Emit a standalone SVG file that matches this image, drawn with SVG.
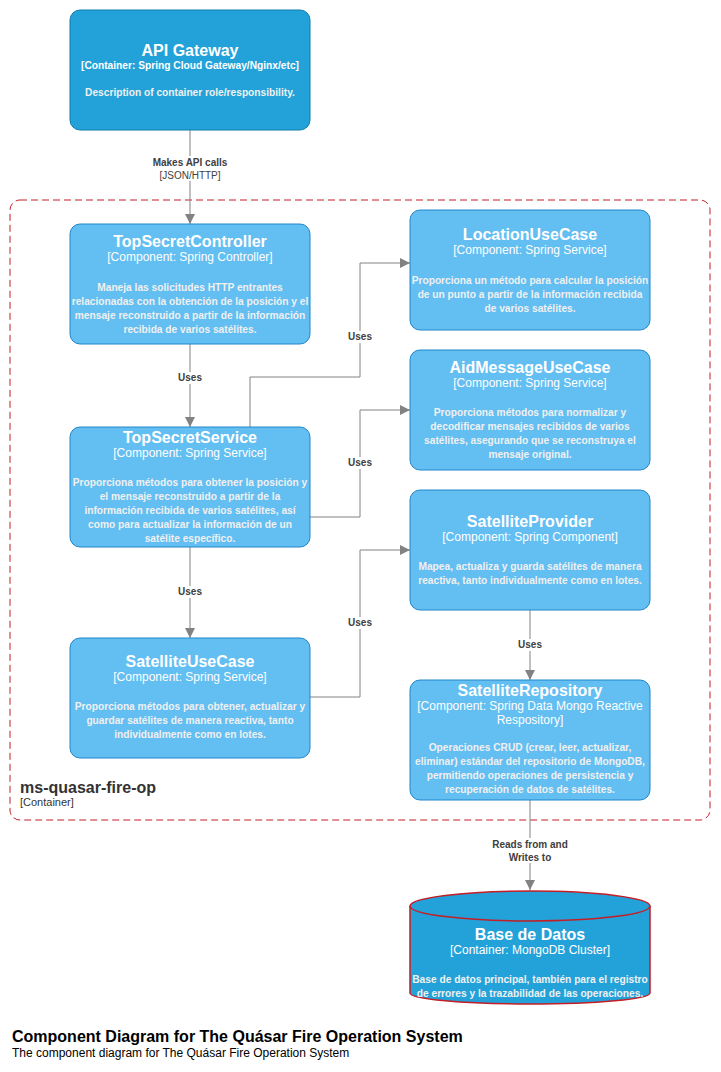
<svg xmlns="http://www.w3.org/2000/svg" width="721" height="1072" viewBox="0 0 721 1072">
<style>
.ct{fill:#23A2D9;stroke:#0E7DAD;stroke-width:1}
.cp{fill:#63BEF2;stroke:#2086C9;stroke-width:1}
.t{font-family:"Liberation Sans",Arial,sans-serif;fill:#fff;text-anchor:middle}
.n{font-size:16px;font-weight:bold}
.s{font-size:12px}
.d{font-size:10.2px;font-weight:bold;fill:#F0F0F0}
.e{fill:none;stroke:#828282;stroke-width:1}
.l{font-family:"Liberation Sans",Arial,sans-serif;font-size:10px;fill:#404040;text-anchor:middle}
.lb{font-weight:bold}
.bg{fill:#fff}
</style>
<defs>
<marker id="ar" viewBox="0 0 10 10" refX="10" refY="5" markerWidth="10" markerHeight="10" markerUnits="userSpaceOnUse" orient="auto">
<path d="M0,0 L10,5 L0,10 z" fill="#828282"/>
</marker>
</defs>
<rect width="721" height="1072" fill="#fff"/>

<g id="boundary">
<rect x="10" y="200" width="700" height="620" rx="10" fill="none" stroke="#C41E26" stroke-width="1" stroke-dasharray="7 4"/>
<text x="20" y="793" font-family="Liberation Sans,Arial,sans-serif" font-size="16" font-weight="bold" fill="#333">ms-quasar-fire-op</text>
<text x="20" y="806" font-family="Liberation Sans,Arial,sans-serif" font-size="11" fill="#333">[Container]</text>
</g>

<g id="connectors">
<path class="e" d="M190,130 V224" marker-end="url(#ar)"/>
<rect class="bg" x="146" y="156" width="88" height="25"/>
<text class="l lb" x="190" y="166">Makes API calls</text>
<text class="l" x="190" y="179">[JSON/HTTP]</text>

<path class="e" d="M190,344 V427" marker-end="url(#ar)"/>
<rect class="bg" x="174" y="372" width="32" height="12"/>
<text class="l lb" x="190" y="381">Uses</text>

<path class="e" d="M250,427 V377 H360 V263 H410" marker-end="url(#ar)"/>
<rect class="bg" x="344" y="331" width="32" height="12"/>
<text class="l lb" x="360" y="340">Uses</text>

<path class="e" d="M310,517 H360 V410 H410" marker-end="url(#ar)"/>
<rect class="bg" x="344" y="457" width="32" height="12"/>
<text class="l lb" x="360" y="466">Uses</text>

<path class="e" d="M190,547 V638" marker-end="url(#ar)"/>
<rect class="bg" x="174" y="586" width="32" height="12"/>
<text class="l lb" x="190" y="595">Uses</text>

<path class="e" d="M310,697 H360 V550 H410" marker-end="url(#ar)"/>
<rect class="bg" x="344" y="617" width="32" height="12"/>
<text class="l lb" x="360" y="626">Uses</text>

<path class="e" d="M530,610 V680" marker-end="url(#ar)"/>
<rect class="bg" x="514" y="639" width="32" height="12"/>
<text class="l lb" x="530" y="648">Uses</text>

<path class="e" d="M530,800 V890" marker-end="url(#ar)"/>
<rect class="bg" x="486" y="838" width="88" height="25"/>
<text class="l lb" x="530" y="848">Reads from and</text>
<text class="l lb" x="530" y="861">Writes to</text>
</g>

<g id="api-gateway">
<rect class="ct" x="70" y="10" width="240" height="120" rx="10"/>
<text class="t n" x="190" y="56">API Gateway</text>
<text class="t d" x="190" y="69" style="fill:#fff">[Container: Spring Cloud Gateway/Nginx/etc]</text>
<text class="t d" x="190" y="96">Description of container role/responsibility.</text>
</g>

<g id="top-secret-controller">
<rect class="cp" x="70" y="224" width="240" height="120" rx="10"/>
<text class="t n" x="190" y="247">TopSecretController</text>
<text class="t s" x="190" y="261">[Component: Spring Controller]</text>
<text class="t d" x="190" y="291">Maneja las solicitudes HTTP entrantes</text>
<text class="t d" x="190" y="305">relacionadas con la obtención de la posición y el</text>
<text class="t d" x="190" y="319">mensaje reconstruido a partir de la información</text>
<text class="t d" x="190" y="333">recibida de varios satélites.</text>
</g>

<g id="location-use-case">
<rect class="cp" x="410" y="210" width="240" height="120" rx="10"/>
<text class="t n" x="530" y="240">LocationUseCase</text>
<text class="t s" x="530" y="254">[Component: Spring Service]</text>
<text class="t d" x="530" y="284">Proporciona un método para calcular la posición</text>
<text class="t d" x="530" y="298">de un punto a partir de la información recibida</text>
<text class="t d" x="530" y="312">de varios satélites.</text>
</g>

<g id="aid-message-use-case">
<rect class="cp" x="410" y="350" width="240" height="120" rx="10"/>
<text class="t n" x="530" y="373">AidMessageUseCase</text>
<text class="t s" x="530" y="387">[Component: Spring Service]</text>
<text class="t d" x="530" y="416">Proporciona métodos para normalizar y</text>
<text class="t d" x="530" y="430">decodificar mensajes recibidos de varios</text>
<text class="t d" x="530" y="444">satélites, asegurando que se reconstruya el</text>
<text class="t d" x="530" y="458">mensaje original.</text>
</g>

<g id="top-secret-service">
<rect class="cp" x="70" y="427" width="240" height="120" rx="10"/>
<text class="t n" x="190" y="443">TopSecretService</text>
<text class="t s" x="190" y="457">[Component: Spring Service]</text>
<text class="t d" x="190" y="486">Proporciona métodos para obtener la posición y</text>
<text class="t d" x="190" y="500">el mensaje reconstruido a partir de la</text>
<text class="t d" x="190" y="514">información recibida de varios satélites, así</text>
<text class="t d" x="190" y="528">como para actualizar la información de un</text>
<text class="t d" x="190" y="542">satélite específico.</text>
</g>

<g id="satellite-provider">
<rect class="cp" x="410" y="490" width="240" height="120" rx="10"/>
<text class="t n" x="530" y="527">SatelliteProvider</text>
<text class="t s" x="530" y="541">[Component: Spring Component]</text>
<text class="t d" x="530" y="570">Mapea, actualiza y guarda satélites de manera</text>
<text class="t d" x="530" y="584">reactiva, tanto individualmente como en lotes.</text>
</g>

<g id="satellite-use-case">
<rect class="cp" x="70" y="638" width="240" height="120" rx="10"/>
<text class="t n" x="190" y="667">SatelliteUseCase</text>
<text class="t s" x="190" y="681">[Component: Spring Service]</text>
<text class="t d" x="190" y="710">Proporciona métodos para obtener, actualizar y</text>
<text class="t d" x="190" y="724">guardar satélites de manera reactiva, tanto</text>
<text class="t d" x="190" y="738">individualmente como en lotes.</text>
</g>

<g id="satellite-repository">
<rect class="cp" x="410" y="680" width="240" height="120" rx="10"/>
<text class="t n" x="530" y="696">SatelliteRepository</text>
<text class="t s" x="530" y="710">[Component: Spring Data Mongo Reactive</text>
<text class="t s" x="530" y="724">Respository]</text>
<text class="t d" x="530" y="751">Operaciones CRUD (crear, leer, actualizar,</text>
<text class="t d" x="530" y="765">eliminar) estándar del repositorio de MongoDB,</text>
<text class="t d" x="530" y="779">permitiendo operaciones de persistencia y</text>
<text class="t d" x="530" y="793">recuperación de datos de satélites.</text>
</g>

<g id="base-de-datos">
<path d="M410,906 A120,15 0 0 1 650,906 V993 A120,11 0 0 1 410,993 Z" fill="#23A2D9" stroke="#C41E26" stroke-width="1.5"/>
<path d="M410,906 A120,15 0 0 0 650,906" fill="none" stroke="#C41E26" stroke-width="1.5"/>
<text class="t n" x="530" y="940">Base de Datos</text>
<text class="t s" x="530" y="954">[Container: MongoDB Cluster]</text>
<text class="t d" x="530" y="983">Base de datos principal, también para el registro</text>
<text class="t d" x="530" y="997">de errores y la trazabilidad de las operaciones.</text>
</g>

<g id="title">
<text x="12" y="1042" font-family="Liberation Sans,Arial,sans-serif" font-size="16" font-weight="bold" fill="#000">Component Diagram for The Quásar Fire Operation System</text>
<text x="12" y="1057" font-family="Liberation Sans,Arial,sans-serif" font-size="12" fill="#000">The component diagram for The Quásar Fire Operation System</text>
</g>
</svg>
